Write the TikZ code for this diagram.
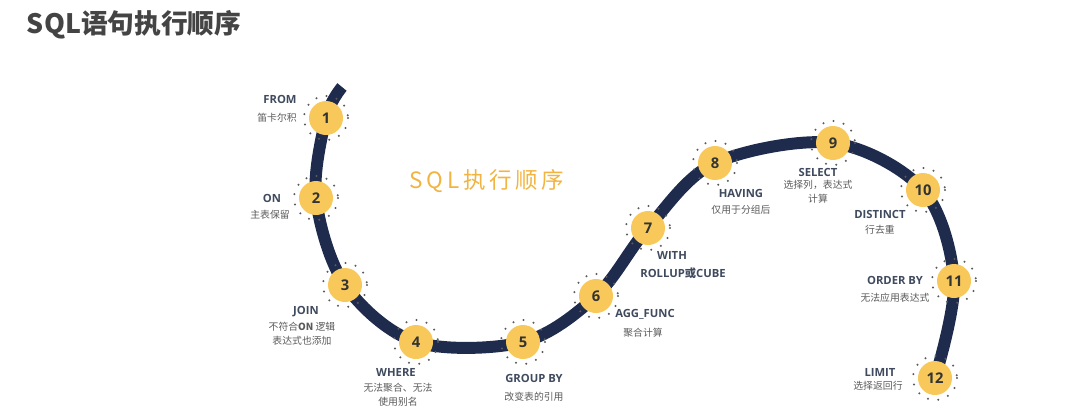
\documentclass[tikz,border=0pt]{standalone}
\usepackage{fontspec}
\setmainfont{Open Sans}
\newfontfamily\cjk{Noto Sans CJK SC}
\usetikzlibrary{calc}
\definecolor{navy}{HTML}{1E2B4D}
\definecolor{sun}{HTML}{F8C95A}
\definecolor{slate}{HTML}{3F4A5E}
\definecolor{note}{HTML}{5A5A5A}
\definecolor{orangey}{HTML}{F2B441}
\definecolor{heading}{HTML}{444444}

\tikzset{
  track/.style={line width=8.5pt, color=navy},
  ring/.style={line width=1.6pt, color=note, line cap=round, dash pattern=on 0pt off 7.4pt},
  stepnum/.style={circle, fill=sun, minimum size=34*0.025cm, inner sep=0pt,
    font=\bfseries\fontsize{10.5}{12}\selectfont, text=black!80},
  keyword/.style={font=\bfseries\fontsize{8}{10}\selectfont, text=slate},
  remark/.style={font=\cjk\fontsize{7}{10}\selectfont, text=note, align=center}
}

\begin{document}
\begin{tikzpicture}[x=0.025cm, y=-0.025cm]
			%%%%% START %%%%%
			\useasboundingbox (0,0) rectangle (1085,415);
			
			\node[anchor=west, font=\cjk\bfseries\fontsize{19}{22}\selectfont, text=heading] (title) at (22,25) {SQL语句执行顺序};
			\node[font=\cjk\fontsize{16}{18}\selectfont, text=orangey] (subtitle) at (487,181) {S\,Q\,L\,执\,行\,顺\,序};
			
			\coordinate (p0) at (342,87);
			\foreach \i/\x/\y in {1/326/118, 2/316/198, 3/345/285, 4/416/342, 5/523/342, 6/596/296,
			                      7/648/228, 8/715/163, 9/833/143, 10/923/190, 11/954/281, 12/935/378}
			  \coordinate (p\i) at (\x,\y);
			
			\draw[track] plot[smooth, tension=0.55] coordinates {(p0) (p1) (p2) (p3) (p4) (p5) (p6) (p7) (p8) (p9) (p10) (p11) (p12)};
			
			\foreach \i in {1,...,12}{
			  \draw[ring] (p\i) circle (22);
			  \node[stepnum] (n\i) at (p\i) {\i};
			}
			
			\node[keyword] (from) at (280,99) {FROM};
			\node[remark] (from-cn) at (277,118) {笛卡尔积};
			
			\node[keyword] (on) at (272,198) {ON};
			\node[remark] (on-cn) at (270,215) {主表保留};
			
			\node[keyword] (join) at (306,312) {JOIN};
			\node[remark] (join-cn) at (302,334) {不符合{\bfseries ON} 逻辑\\表达式也添加};
			
			\node[keyword] (where) at (396,372) {WHERE};
			\node[remark] (where-cn) at (398,395) {无法聚合、无法\\使用别名};
			
			\node[keyword] (groupby) at (534,378) {GROUP BY};
			\node[remark] (groupby-cn) at (534,397) {改变表的引用};
			
			\node[keyword] (agg) at (645,314) {AGG\_FUNC};
			\node[remark] (agg-cn) at (643,333) {聚合计算};
			
			\node[keyword] (with) at (672,255) {WITH};
			\node[keyword] (rollup) at (683,273) {ROLLUP{\cjk 或}CUBE};
			
			\node[keyword] (having) at (741,193) {HAVING};
			\node[remark] (having-cn) at (741,210) {仅用于分组后};
			
			\node[keyword] (select) at (818,172) {SELECT};
			\node[remark] (select-cn) at (818,192) {选择列，表达式\\计算};
			
			\node[keyword] (distinct) at (880,214) {DISTINCT};
			\node[remark] (distinct-cn) at (880,230) {行去重};
			
			\node[keyword] (orderby) at (895,280) {ORDER BY};
			\node[remark] (orderby-cn) at (895,298) {无法应用表达式};
			
			\node[keyword] (limit) at (880,372) {LIMIT};
			\node[remark] (limit-cn) at (878,386) {选择返回行};
			%%%%% END %%%%%
\end{tikzpicture}
\end{document}
